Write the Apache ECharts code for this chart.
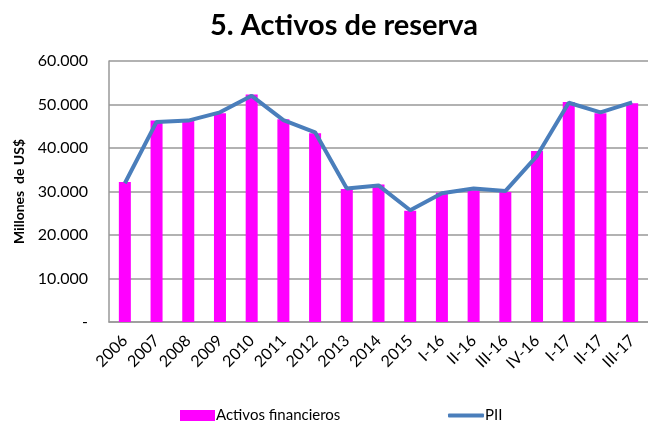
<!DOCTYPE html>
<html><head><meta charset="utf-8">
<script src="https://cdn.jsdelivr.net/npm/echarts@6/dist/echarts.min.js"></script>
<style>html,body{margin:0;padding:0;background:#fff}#c{width:648px;height:429px}</style>
</head><body><div id="c"></div>
<script>
var categories = ['2006','2007','2008','2009','2010','2011','2012','2013','2014','2015','I-16','II-16','III-16','IV-16','I-17','II-17','III-17'];
var activosFinancieros = [32200,46300,46400,48000,52300,46600,43400,30600,31600,25600,29700,30300,29900,39300,50600,48000,50300];
var pii = [31900,46000,46300,48200,52000,46400,43600,30700,31400,25700,29600,30700,30100,38200,50400,48200,50500];
var yTicks = [0,10000,20000,30000,40000,50000,60000];

var font = 'Lato, "Open Sans", sans-serif';
var chart = echarts.init(document.getElementById('c'));
chart.setOption({
  animation: false,
  title: {text: '5. Activos de reserva', left: 339, textAlign: 'center', top: 6,
    textStyle: {fontFamily: font, fontSize: 29, fontWeight: 'bold', color: '#000'}},
  legend: [
    {data: [{name: 'Activos financieros', icon: 'rect'}], left: 175, top: 403, itemWidth: 35, itemHeight: 11, itemGap: 2,
     textStyle: {fontFamily: font, fontSize: 15, color: '#000', padding: [0,0,0,-4]}},
    {data: [{name: 'PII', icon: 'roundRect'}], left: 443, top: 403, itemWidth: 36, itemHeight: 4,
     textStyle: {fontFamily: font, fontSize: 15, color: '#000', padding: [0,0,0,-4]}}
  ],
  grid: {left: 109, top: 61, width: 551, height: 261, containLabel: false},
  xAxis: {type: 'category', data: categories, boundaryGap: true,
    axisLine: {lineStyle: {color: '#999', width: 1.5}}, axisTick: {show: false},
    axisLabel: {rotate: 45, fontFamily: font, fontSize: 16, color: '#000', margin: 16, interval: 0}},
  yAxis: {type: 'value', min: yTicks[0], max: yTicks[yTicks.length-1], interval: 10000,
    name: 'Millones  de US$', nameLocation: 'middle', nameGap: 81, nameRotate: 90,
    nameTextStyle: {fontFamily: font, fontSize: 14, fontWeight: 'bold', color: '#000'},
    axisLine: {show: true, lineStyle: {color: '#999', width: 1.5}}, axisTick: {show: false},
    splitLine: {lineStyle: {color: '#999', width: 1.5}},
    axisLabel: {fontFamily: font, fontSize: 16, color: '#000', margin: 21,
      formatter: function(v){ return v === 0 ? '-' : (v/1000).toFixed(3); }}},
  series: [
    {name: 'Activos financieros', type: 'bar', data: activosFinancieros, barWidth: 12,
     itemStyle: {color: '#FF00FF'}},
    {name: 'PII', type: 'line', data: pii, symbol: 'none',
     lineStyle: {color: '#4A7EBB', width: 4}, itemStyle: {color: '#4A7EBB'}}
  ]
});
</script></body></html>
